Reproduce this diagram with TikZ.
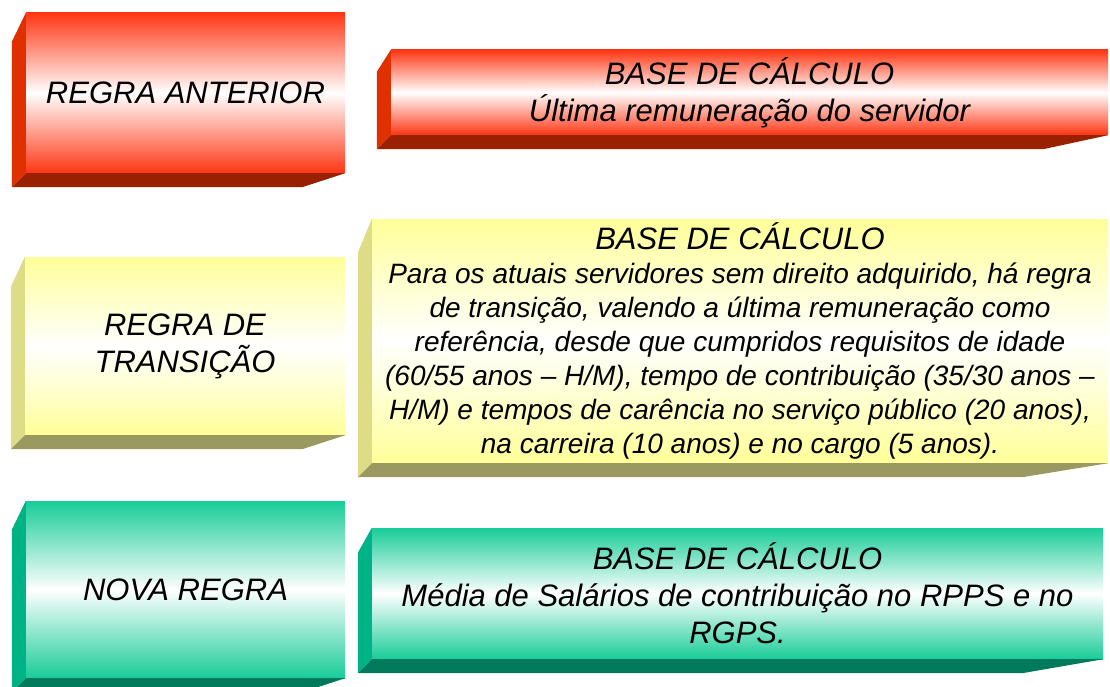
\documentclass[tikz,border=0pt]{standalone}
\usepackage{fontspec}
\setmainfont{Liberation Sans}
\usetikzlibrary{calc}
\definecolor{redface}{HTML}{FF3614}
\definecolor{redside}{HTML}{E03000}
\definecolor{redbase}{HTML}{992000}
\definecolor{yelface}{HTML}{FFFF99}
\definecolor{yelside}{HTML}{DDDD88}
\definecolor{yelbase}{HTML}{999960}
\definecolor{grnface}{HTML}{18CC98}
\definecolor{grnside}{HTML}{00B386}
\definecolor{grnbase}{HTML}{007A5A}
\begin{document}
\begin{tikzpicture}[x=1pt,y=-1pt,
  every node/.style={font=\fontsize{31}{37}\selectfont\itshape},
  face/.style={inner sep=0pt,align=center,top color=#1,bottom color=#1,middle color=white}]
\useasboundingbox (0,0) rectangle (1110,687);
% front faces
\node[face=redface,minimum width=319,minimum height=160] (anterior) at (185.5,93) {REGRA ANTERIOR};
\node[face=redface,minimum width=717,minimum height=85] (ultima) at (749.5,92.5)
  {BASE DE CÁLCULO\\Última remuneração do servidor};
\node[face=yelface,minimum width=320,minimum height=178] (transicao) at (185,346) {REGRA DE\\TRANSIÇÃO};
\node[face=yelface,minimum width=736,minimum height=244,font=\fontsize{28}{34}\selectfont\itshape] (regras) at (740,341)
  {{\fontsize{31}{35}\selectfont BASE DE CÁLCULO}\\
   Para os atuais servidores sem direito adquirido, há regra\\
   de transição, valendo a última remuneração como\\
   referência, desde que cumpridos requisitos de idade\\
   (60/55 anos – H/M), tempo de contribuição (35/30 anos –\\
   H/M) e tempos de carência no serviço público (20 anos),\\
   na carreira (10 anos) e no cargo (5 anos).};
\node[face=grnface,minimum width=319,minimum height=177] (nova) at (185.5,589.5) {NOVA REGRA};
\node[face=grnface,minimum width=731,minimum height=131] (media) at (737.5,593.5)
  {BASE DE CÁLCULO\\Média de Salários de contribuição no RPPS e no\\RGPS.};
% side and bottom faces
\foreach \n/\dy/\dx/\col in {anterior/29/43/red,ultima/22/65/red,transicao/30/43/yel,
    regras/34/86/yel,nova/29/43/grn,media/25/81/grn}{
  \fill[\col side] (\n.north west) -- ++(-14,\dy) -- ($(\n.south west)+(-14,14)$) -- (\n.south west) -- cycle;
  \fill[\col base] (\n.south west) -- ++(-14,14) -- ($(\n.south east)+(-\dx,14)$) -- (\n.south east) -- cycle;
}
\end{tikzpicture}
\end{document}
